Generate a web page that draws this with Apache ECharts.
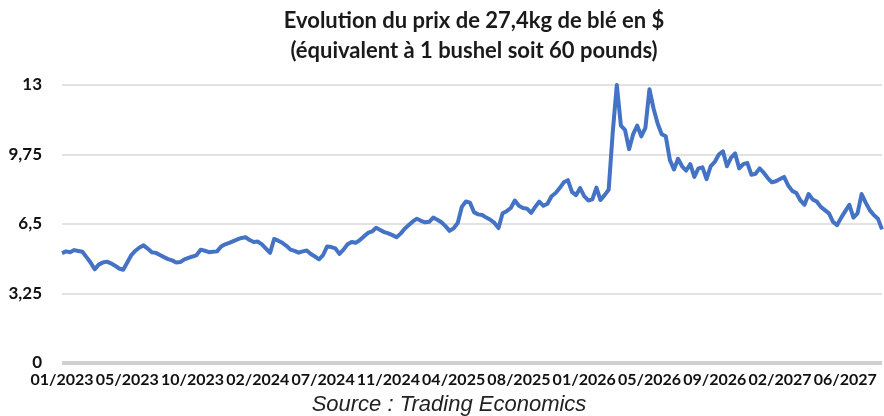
<!DOCTYPE html>
<html>
<head>
<meta charset="utf-8">
<script src="https://cdn.jsdelivr.net/npm/echarts@6/dist/echarts.min.js"></script>
<style>
  html, body { margin: 0; padding: 0; background: #fff; }
  #chart { width: 884px; height: 416px; }
</style>
</head>
<body>
<div id="chart"></div>
<script>
// tick labels shown on the date axis (one every 16 points)
const tickLabels = ["01/2023", "05/2023", "10/2023", "02/2024", "07/2024", "11/2024", "04/2025",
  "08/2025", "01/2026", "05/2026", "09/2026", "02/2027", "06/2027"];
const labelEvery = 16;

// price of 27,4 kg of wheat ($)
const prices = [
  5.14, 5.22, 5.18, 5.28, 5.24, 5.20, 4.95, 4.70, 4.38, 4.60,
  4.70, 4.74, 4.66, 4.55, 4.42, 4.36, 4.70, 5.05, 5.25, 5.40,
  5.50, 5.35, 5.18, 5.15, 5.05, 4.95, 4.86, 4.80, 4.70, 4.72,
  4.85, 4.92, 4.98, 5.05, 5.30, 5.25, 5.18, 5.20, 5.22, 5.45,
  5.55, 5.62, 5.70, 5.78, 5.85, 5.88, 5.75, 5.66, 5.68, 5.55,
  5.35, 5.15, 5.80, 5.72, 5.62, 5.48, 5.30, 5.24, 5.16, 5.22,
  5.26, 5.10, 4.98, 4.85, 5.05, 5.45, 5.42, 5.36, 5.10, 5.30,
  5.55, 5.66, 5.62, 5.75, 5.92, 6.08, 6.15, 6.32, 6.22, 6.12,
  6.06, 5.98, 5.88, 6.05, 6.28, 6.45, 6.62, 6.75, 6.65, 6.58,
  6.60, 6.80, 6.70, 6.58, 6.40, 6.18, 6.30, 6.55, 7.30, 7.55,
  7.50, 7.05, 6.95, 6.92, 6.80, 6.70, 6.55, 6.31, 7.00, 7.10,
  7.25, 7.60, 7.35, 7.25, 7.22, 7.02, 7.30, 7.55, 7.35, 7.45,
  7.80, 7.95, 8.18, 8.45, 8.55, 8.00, 7.85, 8.18, 7.80, 7.60,
  7.65, 8.20, 7.62, 7.85, 8.10, 10.8, 13.00, 11.10, 10.90, 10.0,
  10.7, 11.10, 10.60, 11.00, 12.80, 11.9, 11.2, 10.7, 10.60, 9.5,
  9.05, 9.55, 9.20, 9.00, 9.30, 8.70, 9.10, 9.15, 8.60, 9.20,
  9.40, 9.75, 9.90, 9.20, 9.60, 9.80, 9.10, 9.30, 9.35, 8.80,
  8.85, 9.10, 8.90, 8.65, 8.45, 8.50, 8.60, 8.70, 8.30, 8.05,
  7.95, 7.60, 7.40, 7.90, 7.65, 7.55, 7.30, 7.15, 7.00, 6.60,
  6.45, 6.80, 7.10, 7.40, 6.80, 7.00, 7.90, 7.50, 7.15, 6.92,
  6.75, 6.25
];

const yTicks = [0, 3.25, 6.5, 9.75, 13];

const titleLines = ["Evolution du prix de 27,4kg de blé en $", "(équivalent à 1 bushel soit 60 pounds)"];
const sourceText = "Source : Trading Economics";

(function () {
  "use strict";
  const chart = echarts.init(document.getElementById("chart"), null, { renderer: "canvas" });
  const cats = prices.map((_, i) => (i % labelEvery === 0 ? tickLabels[i / labelEvery] || "" : ""));
  const font = "Lato, 'Open Sans', sans-serif";

  chart.setOption({
    animation: false,
    backgroundColor: "#fff",
    grid: { left: 62, right: 2, top: 85, bottom: 53, containLabel: false },
    graphic: [
      { type: "text", x: 474, y: 6, style: {
          text: titleLines.join("\n"), fill: "#1a1a1a", font: "bold 22px " + font,
          lineHeight: 30, align: "center", verticalAlign: "top" } },
      { type: "text", x: 449, y: 394, style: {
          text: sourceText, fill: "#222", align: "center", verticalAlign: "top",
          font: "italic 22px 'Liberation Sans', Arial, sans-serif" } }
    ],
    xAxis: {
      type: "category", data: cats, boundaryGap: false,
      axisLine: { show: false }, axisTick: { show: false },
      axisLabel: { interval: labelEvery - 1, color: "#111", fontFamily: font, fontWeight: "bold", fontSize: 16, margin: 9 },
      splitLine: { show: false }
    },
    yAxis: {
      type: "value", min: 0, max: 13, interval: 3.25,
      axisLine: { show: false }, axisTick: { show: false },
      axisLabel: {
        color: "#111", fontFamily: font, fontWeight: "bold", fontSize: 17, margin: 20,
        formatter: (v) => (yTicks.includes(v) ? String(v).replace(".", ",") : "")
      },
      splitLine: { lineStyle: { color: "#d9d9d9", width: 1.5 } }
    },
    series: [
      { type: "line", data: prices, symbol: "none", smooth: false,
        lineStyle: { color: "#4472C4", width: 4, join: "round" }, z: 3 },
      // thick grey baseline at 0
      { type: "line", data: prices.map(() => 0), symbol: "none", silent: true,
        lineStyle: { color: "#d0d0d0", width: 4 }, z: 2 }
    ]
  });
})();
</script>
</body>
</html>
